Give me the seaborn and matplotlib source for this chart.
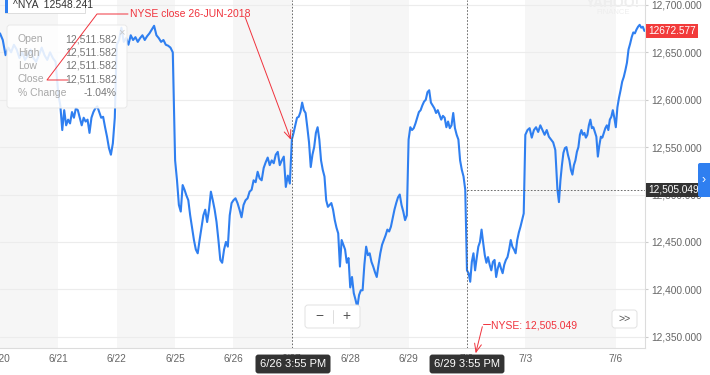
import matplotlib
matplotlib.use('Agg')
import matplotlib.pyplot as plt
import matplotlib.transforms as mtransforms
from matplotlib.patches import FancyBboxPatch, Rectangle
import numpy as np
import pandas as pd
import seaborn as sns

sns.set_style('white')
plt.rcParams['font.family'] = ['Liberation Sans', 'DejaVu Sans']

# sessions: label, start (trading days from 6/20) and length
days = ['6/20', '6/21', '6/22', '6/25', '6/26', '6/27', '6/28', '6/29', '7/2', '7/3', '7/5', '7/6']
day_start = [0, 1, 2, 3, 4, 5, 6, 7, 8, 9, 9.55, 10.55]
day_len = [1, 1, 1, 1, 1, 1, 1, 1, 1, 0.55, 1, 0.49]
tick_days = ['6/20', '6/21', '6/22', '6/25', '6/26', '6/27', '6/28', '6/29', '7/2', '7/3', '7/6']
shaded_days = ['6/20', '6/22', '6/26', '6/28', '7/3', '7/5']

# ^NYA intraday prices, one list per session
p0620 = [12670, 12663, 12647, 12655, 12650, 12658, 12653, 12644, 12650, 12642, 12647,
         12653, 12644, 12640, 12647, 12655, 12647, 12642, 12650, 12644, 12640]
p0621 = [12605, 12594, 12568, 12589, 12573, 12579, 12575, 12587, 12581, 12591, 12589,
         12581, 12573, 12581, 12577, 12579, 12565, 12581, 12587, 12591, 12593, 12587,
         12581, 12582, 12571, 12561, 12549, 12542, 12554, 12581]
p0622 = [12658, 12663, 12676, 12661, 12665, 12658, 12668, 12663, 12666, 12661, 12665,
         12668, 12663, 12667, 12670, 12674, 12678, 12668, 12665, 12661, 12663, 12658,
         12657, 12655, 12650]
p0625 = [12536, 12515, 12489, 12482, 12510, 12505, 12499, 12494, 12478, 12465, 12452,
         12442, 12438, 12452, 12465, 12478, 12484, 12471, 12484, 12503, 12494, 12484,
         12471, 12452, 12431, 12428, 12442, 12450, 12445, 12478, 12491]
p0626 = [12494, 12496, 12491, 12484, 12476, 12489, 12494, 12496, 12503, 12505, 12515,
         12513, 12524, 12517, 12515, 12528, 12534, 12539, 12531, 12536, 12533, 12542,
         12545, 12531, 12536, 12540, 12508, 12520, 12511.582]
p0627 = [12558, 12565, 12573, 12581, 12582, 12587, 12597, 12589, 12586, 12571, 12555,
         12529, 12542, 12550, 12565, 12571, 12558, 12536, 12526, 12519, 12494, 12487,
         12489, 12491, 12484, 12473, 12465, 12459, 12424, 12452, 12447, 12442, 12428, 12433]
p0628 = [12402, 12413, 12396, 12389, 12381, 12394, 12399, 12399, 12426, 12445, 12436,
         12438, 12429, 12424, 12418, 12413, 12426, 12438, 12447, 12452, 12457, 12463,
         12461, 12466, 12475, 12484, 12491, 12497, 12500, 12489, 12482, 12473, 12478]
p0629 = [12558, 12571, 12568, 12570, 12575, 12581, 12587, 12589, 12594, 12598, 12600,
         12608, 12610, 12597, 12594, 12591, 12586, 12589, 12584, 12579, 12583, 12581,
         12571, 12577, 12570, 12573, 12586, 12570, 12563, 12558, 12536, 12526, 12519, 12505.049]
p0702 = [12420, 12417, 12408, 12429, 12438, 12420, 12433, 12445, 12450, 12463, 12449,
         12436, 12428, 12434, 12426, 12420, 12429, 12431, 12413, 12422, 12428, 12422,
         12417, 12426, 12431, 12434, 12442, 12452, 12445, 12442, 12438, 12452, 12460,
         12466, 12473, 12480]
p0703 = [12563, 12568, 12570, 12560, 12568, 12571, 12566, 12573, 12568, 12563, 12568,
         12561, 12558, 12555, 12547]
p0705 = [12505, 12492, 12515, 12531, 12544, 12549, 12550, 12542, 12536, 12526, 12521,
         12531, 12536, 12545, 12550, 12563, 12568, 12563, 12565, 12560, 12563, 12573,
         12579, 12570, 12571, 12566, 12561, 12540, 12552, 12561, 12560, 12565, 12570,
         12573, 12568, 12579, 12582, 12589, 12581]
p0706 = [12571, 12592, 12602, 12610, 12619, 12624, 12631, 12639, 12653, 12659, 12666,
         12671, 12670, 12674, 12677, 12679, 12676, 12677, 12672.577]
prices = [p0620, p0621, p0622, p0625, p0626, p0627, p0628, p0629, p0702, p0703, p0705, p0706]

y_ticks = [12350, 12400, 12450, 12500, 12550, 12600, 12650, 12700]
last_price = 12672.577
nyse_close = 12505.049
header = '^NYA  12548.241'
tip_rows = [('Open', '12,511.582'), ('High', '12,511.582'), ('Low', '12,511.582'),
            ('Close', '12,511.582'), ('% Change', '-1.04%')]

frames = []
for d, s, ln, p in zip(days, day_start, day_len, prices):
    t = np.linspace(s, s + ln, len(p), endpoint=(d == '7/6'))
    frames.append(pd.DataFrame({'t': t, 'price': p}))
df = pd.concat(frames, ignore_index=True)

blue = '#2f7ff0'
red = '#f0323c'

fig = plt.figure(figsize=(7.1, 3.75), dpi=100)
ax = fig.add_axes([0, 1 - 348 / 375, 645 / 710, 348 / 375])
# pixel (from top-left) -> display, for the overlay widgets
P = mtransforms.Affine2D().scale(1 / 710, -1 / 375).translate(0, 1) + fig.transFigure

for d in shaded_days:
    i = days.index(d)
    ax.axvspan(day_start[i], day_start[i] + day_len[i] + (0.06 if d == '7/3' else 0),
               color='#f6f6f6', lw=0, zorder=0)

sns.lineplot(data=df, x='t', y='price', color=blue, lw=1.5, ax=ax, zorder=3)

ax.set_xlim(0, 11.05)
ax.set_ylim(12338.1, 12705.2)
ax.set_xlabel('')
ax.set_ylabel('')
ax.set_xticks([day_start[days.index(d)] for d in tick_days])
ax.set_xticklabels(tick_days)
ax.yaxis.tick_right()
ax.set_yticks(y_ticks)
ax.set_yticklabels([f'{v:,.3f}' for v in y_ticks])
ax.tick_params(axis='both', labelsize=7.3, colors='#cccccc', labelcolor='#666666', length=2)
ax.tick_params(axis='x', pad=2)
ax.tick_params(axis='y', pad=2.5)
ax.grid(axis='y', color='#ececec', lw=0.8)
ax.set_axisbelow(True)
for side in ['left', 'top']:
    ax.spines[side].set_visible(False)
for side in ['bottom', 'right']:
    ax.spines[side].set_color('#dcdcdc')
    ax.spines[side].set_linewidth(0.8)

# crosshair lines
ax.axvline(5.0, color='#555555', ls=(0, (2, 2)), lw=0.6, zorder=4)
ax.axvline(8.0, color='#555555', ls=(0, (2, 2)), lw=0.6, zorder=4)
ax.plot([8.0, 11.05], [nyse_close, nyse_close], color='#555555', ls=(0, (2, 2)), lw=0.6, zorder=4)

# watermark
ax.text(613, 3, 'YAHOO!', transform=P, ha='center', va='center', fontsize=10,
        fontweight='bold', color='#eeeeee', clip_on=False)
ax.text(613, 12, 'FINANCE', transform=P, ha='center', va='center', fontsize=5.5,
        color='#eeeeee', clip_on=False)

# header box
ax.add_patch(Rectangle((5, -3), 80, 16, transform=P, facecolor='white',
                       edgecolor='#dddddd', lw=0.7, zorder=6, clip_on=False))
ax.add_patch(Rectangle((5, -3), 3, 16, transform=P, facecolor=blue, lw=0, zorder=7, clip_on=False))
ax.text(13, 5.5, header, transform=P, ha='left', va='center', fontsize=7.5,
        color='#333333', zorder=8)

# tooltip
ax.add_patch(FancyBboxPatch((7, 25), 120, 83, boxstyle='round,pad=0,rounding_size=3',
                            transform=P, facecolor=(1, 1, 1, 0.86), edgecolor='#e8e8e8',
                            lw=0.7, zorder=6, clip_on=False))
for k, (lab, val) in enumerate(tip_rows):
    yy = 39 + k * 13.5
    ax.text(18, yy, lab, transform=P, ha='left', va='center', fontsize=7.5, color='#a8a8a8', zorder=7)
    ax.text(117, yy, val, transform=P, ha='right', va='center', fontsize=7.5, color='#777777', zorder=7)
ax.text(121, 32, '×', transform=P, ha='center', va='center', fontsize=8, color='#c8c8c8', zorder=7)

# red annotations
ax.text(130, 14, 'NYSE close 26-JUN-2018', transform=P, ha='left', va='center',
        fontsize=7.5, color=red, zorder=9)
ax.plot([128, 97, 47, 68], [14, 14, 80, 80], transform=P, color=red, lw=0.7, zorder=9, clip_on=False)
ax.annotate('', xy=(5.0, 12555), xycoords='data', xytext=(244, 14), textcoords=P,
            arrowprops=dict(arrowstyle='->,head_length=0.6,head_width=0.25', color=red, lw=0.7),
            zorder=9)
ax.text(491, 325, 'NYSE: 12,505.049', transform=P, ha='left', va='center',
        fontsize=7.5, color=red, zorder=9)
ax.plot([490, 483], [324, 324], transform=P, color=red, lw=0.7, zorder=9, clip_on=False)
ax.annotate('', xy=(475, 356), xycoords=P, xytext=(483, 324), textcoords=P,
            arrowprops=dict(arrowstyle='->,head_length=0.6,head_width=0.25', color=red, lw=0.7),
            zorder=9, annotation_clip=False)

# zoom buttons
ax.add_patch(FancyBboxPatch((305, 305), 55, 23, boxstyle='round,pad=0,rounding_size=3',
                            transform=P, facecolor='white', edgecolor='#e2e2e2', lw=0.7,
                            zorder=6, clip_on=False))
ax.plot([333, 333], [310, 323], transform=P, color='#dddddd', lw=0.7, zorder=7, clip_on=False)
ax.text(319, 316, '−', transform=P, ha='center', va='center', fontsize=10, color='#555555', zorder=7)
ax.text(346, 316, '+', transform=P, ha='center', va='center', fontsize=10, color='#555555', zorder=7)
ax.add_patch(FancyBboxPatch((612, 310), 25, 18, boxstyle='round,pad=0,rounding_size=3',
                            transform=P, facecolor='white', edgecolor='#e2e2e2', lw=0.7,
                            zorder=6, clip_on=False))
ax.text(624.5, 319, '>>', transform=P, ha='center', va='center', fontsize=7.5, color='#555555', zorder=7)

# dark time labels under the crosshairs
for xc, lab in [(293, '6/26 3:55 PM'), (467, '6/29 3:55 PM')]:
    ax.text(xc, 364, lab, transform=P, ha='center', va='center', fontsize=8, color='white',
            zorder=10, clip_on=False,
            bbox=dict(boxstyle='round,pad=0.4,rounding_size=0.25', facecolor='#333333', lw=0))

# price labels on the right axis
ax.text(648, 190, f'{nyse_close:,.3f}', transform=P, ha='left', va='center', fontsize=7.3,
        color='white', zorder=10, clip_on=False,
        bbox=dict(boxstyle='square,pad=0.2', facecolor='#333333', lw=0))
ax.text(648, 31, f'{last_price:.3f}', transform=P, ha='left', va='center', fontsize=7.3,
        color='white', zorder=10, clip_on=False,
        bbox=dict(boxstyle='square,pad=0.2', facecolor='#f23b3b', lw=0))
ax.add_patch(FancyBboxPatch((698, 163), 14, 34, boxstyle='round,pad=0,rounding_size=2',
                            transform=P, facecolor=blue, lw=0, zorder=10, clip_on=False))
ax.text(704, 180, '›', transform=P, ha='center', va='center', fontsize=9, color='white', zorder=11)

fig.savefig('out.png', dpi=100)
plt.close()
